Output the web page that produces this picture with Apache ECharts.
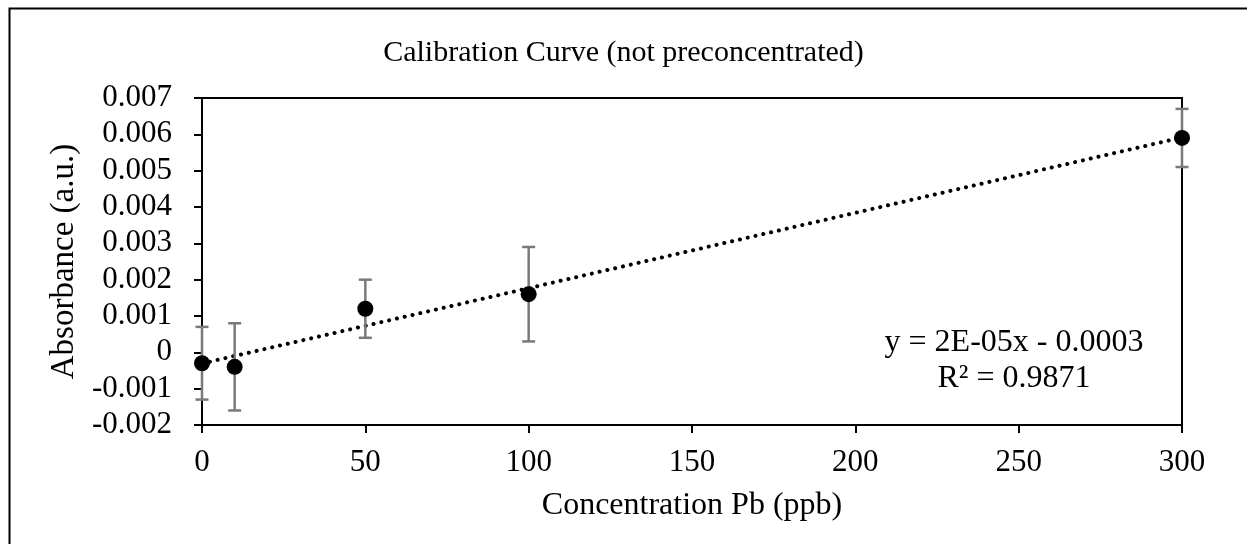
<!DOCTYPE html>
<html>
<head>
<meta charset="utf-8">
<script src="https://cdn.jsdelivr.net/npm/echarts@6/dist/echarts.min.js"></script>
<style>
html,body{margin:0;padding:0;background:#fff;}
#c{width:1247px;height:544px;}
</style>
</head>
<body>
<div id="c"></div>
<script>
// Data
var concentrations = [0, 10, 50, 100, 300];
var absorbance = [-0.0003, -0.0004, 0.0012, 0.0016, 0.0059];
var errors = [0.0010, 0.0012, 0.0008, 0.0013, 0.0008];
var titleText = 'Calibration Curve (not preconcentrated)';
var xTitle = 'Concentration Pb (ppb)';
var yTitle = 'Absorbance (a.u.)';
var eqLine1 = 'y = 2E-05x - 0.0003';
var eqLine2 = 'R\u00B2 = 0.9871';

// Linear trendline (least squares) from data
var n = concentrations.length, mx = 0, my = 0;
for (var i = 0; i < n; i++) { mx += concentrations[i]; my += absorbance[i]; }
mx /= n; my /= n;
var sxx = 0, sxy = 0;
for (var i = 0; i < n; i++) { sxx += (concentrations[i]-mx)*(concentrations[i]-mx); sxy += (concentrations[i]-mx)*(absorbance[i]-my); }
var slope = sxy / sxx, intercept = my - slope * mx;
var xMinD = Math.min.apply(null, concentrations), xMaxD = Math.max.apply(null, concentrations);
var trend = [[xMinD, intercept + slope * xMinD], [xMaxD, intercept + slope * xMaxD]];

var points = concentrations.map(function(x, i){ return [x, absorbance[i]]; });
var errData = concentrations.map(function(x, i){ return [x, absorbance[i] - errors[i], absorbance[i] + errors[i]]; });

var FONT = '"Liberation Serif", "Times New Roman", serif';
var chart = echarts.init(document.getElementById('c'), null, {renderer: 'canvas'});
chart.setOption({
  backgroundColor: '#fff',
  animation: false,
  title: {
    text: titleText, left: 'center', top: 33,
    textStyle: {fontFamily: FONT, fontSize: 30, fontWeight: 'normal', color: '#000'}
  },
  grid: {left: 202, right: 65, top: 98, bottom: 119, show: true, borderColor: '#000', borderWidth: 2, backgroundColor: 'transparent'},
  xAxis: {
    type: 'value', min: 0, max: 300, interval: 50,
    name: xTitle, nameLocation: 'middle', nameGap: 65,
    nameTextStyle: {fontFamily: FONT, fontSize: 32, color: '#000'},
    axisLine: {show: true, onZero: false, lineStyle: {color: '#000', width: 2}},
    axisTick: {show: true, inside: false, length: 8, lineStyle: {color: '#000', width: 2}},
    axisLabel: {fontFamily: FONT, fontSize: 31, color: '#000', margin: 22},
    splitLine: {show: false}
  },
  yAxis: {
    type: 'value', min: -0.002, max: 0.007, interval: 0.001,
    name: yTitle, nameLocation: 'middle', nameGap: 113, nameRotate: 90,
    nameTextStyle: {fontFamily: FONT, fontSize: 33, color: '#000'},
    axisLine: {show: true, onZero: false, lineStyle: {color: '#000', width: 2}},
    axisTick: {show: true, inside: false, length: 8, lineStyle: {color: '#000', width: 2}},
    axisLabel: {fontFamily: FONT, fontSize: 31, color: '#000', margin: 30,
      formatter: function(v){ return parseFloat(v.toFixed(3)).toString(); }},
    splitLine: {show: false}
  },
  series: [
    {
      type: 'line', data: trend, symbol: 'none', z: 2,
      lineStyle: {color: '#000', width: 4, type: [0.1, 7.9], cap: 'round'}
    },
    {
      type: 'custom', z: 3,
      data: errData,
      renderItem: function(params, api){
        var x = api.value(0);
        var lo = api.coord([x, api.value(1)]);
        var hi = api.coord([x, api.value(2)]);
        var half = 6.5;
        var style = {stroke: '#7a7a7a', lineWidth: 2.5, fill: null};
        return {
          type: 'group',
          children: [
            {type: 'line', shape: {x1: lo[0], y1: lo[1], x2: hi[0], y2: hi[1]}, style: style},
            {type: 'line', shape: {x1: lo[0]-half, y1: lo[1], x2: lo[0]+half, y2: lo[1]}, style: style},
            {type: 'line', shape: {x1: hi[0]-half, y1: hi[1], x2: hi[0]+half, y2: hi[1]}, style: style}
          ]
        };
      }
    },
    {
      type: 'scatter', data: points, symbol: 'circle', symbolSize: 16, z: 4,
      itemStyle: {color: '#000', opacity: 1}
    }
  ],
  graphic: [
    {type: 'rect', left: 7, top: 6, shape: {x: 0, y: 0, width: 1400, height: 700},
     style: {fill: null, stroke: '#000', lineWidth: 2}, silent: true, z: 100},
    {type: 'text', x: 1014, y: 343, z: 100,
     style: {text: eqLine1, textAlign: 'center', textVerticalAlign: 'middle', font: '32px ' + FONT, fill: '#000'}},
    {type: 'text', x: 1014, y: 379, z: 100,
     style: {text: eqLine2, textAlign: 'center', textVerticalAlign: 'middle', font: '32px ' + FONT, fill: '#000'}}
  ]
});
</script>
</body>
</html>
